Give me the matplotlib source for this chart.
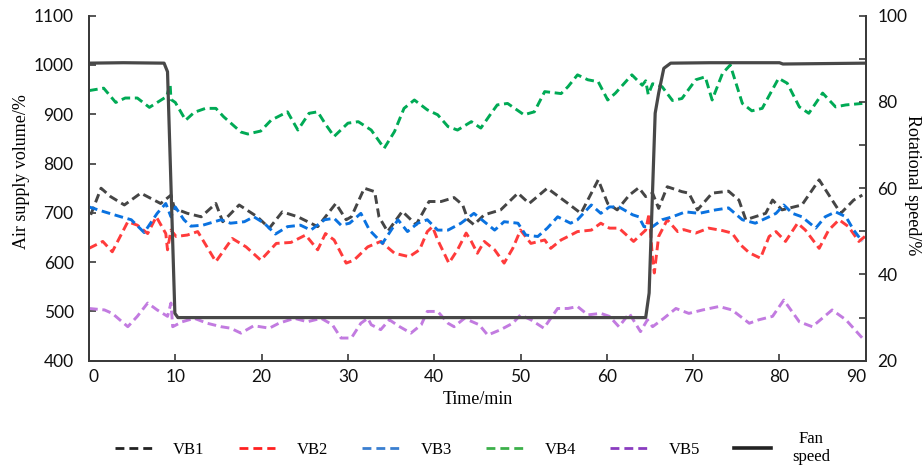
import matplotlib
matplotlib.use("Agg")
import matplotlib.pyplot as plt
from matplotlib.lines import Line2D

# ---- data: time (min) / air supply volume (%) per branch, fan speed (%) ----
vb1_t = [0.2, 1.4, 2.5, 4.1, 6.0, 8.3, 9.5, 9.9, 11.4, 13.0, 14.7, 15.5, 17.4, 19.5, 20.9,
         22.4, 24.2, 26.5, 28.6, 29.8, 30.4, 31.9, 33.1, 33.6, 34.6, 36.3, 37.9, 39.4, 40.8,
         42.3, 43.3, 43.9, 44.6, 45.8, 47.7, 49.7, 51.0, 53.1, 55.5, 57.0, 59.0, 60.1, 61.2,
         62.6, 63.7, 64.5, 65.3, 66.0, 67.0, 68.7, 69.5, 70.5, 72.2, 74.1, 75.3, 76.1, 78.4,
         79.2, 80.3, 81.9, 82.6, 84.6, 86.1, 87.1, 88.6, 89.6]
vb1_v = [696, 750, 733, 716, 740, 719, 736, 709, 699, 692, 719, 682, 716, 692, 669,
         702, 692, 672, 719, 686, 692, 750, 743, 692, 662, 703, 676, 723, 723,
         731, 716, 686, 676, 696, 706, 740, 719, 750, 719, 699, 767, 719, 706,
         736, 751, 733, 740, 709, 753, 743, 740, 706, 740, 744, 726, 686, 699,
         726, 706, 713, 716, 767, 726, 699, 726, 736]

vb2_t = [0.0, 1.6, 2.7, 4.5, 5.6, 6.8, 7.8, 8.9, 9.1, 9.5, 10.1, 11.4, 12.6, 14.7, 16.6,
         18.2, 19.9, 21.7, 23.4, 25.1, 26.5, 27.4, 28.4, 29.8, 30.7, 32.3, 33.8, 35.4, 37.1,
         38.3, 39.2, 39.8, 40.4, 41.7, 42.7, 43.7, 44.3, 45.0, 45.8, 47.0, 48.1, 49.1, 50.0,
         51.2, 52.8, 53.5, 54.7, 55.5, 56.6, 58.2, 59.3, 60.3, 61.4, 63.1, 64.5, 64.9, 65.3,
         65.5, 66.0, 67.0, 68.2, 68.9, 70.3, 71.8, 73.4, 74.5, 75.5, 76.5, 77.8, 78.8, 79.6,
         80.7, 82.1, 83.0, 84.6, 85.7, 86.9, 88.0, 89.2, 89.9]
vb2_v = [628, 642, 621, 682, 675, 658, 692, 658, 625, 665, 652, 655, 662, 601, 648,
         631, 604, 638, 640, 655, 625, 658, 645, 598, 604, 631, 642, 618, 611,
         625, 662, 672, 645, 598, 625, 659, 642, 618, 642, 625, 598, 628, 665,
         638, 645, 628, 645, 652, 662, 665, 679, 669, 669, 642, 665, 699, 605,
         578, 652, 686, 662, 666, 659, 669, 664, 659, 635, 619, 608, 652, 662,
         642, 679, 665, 628, 665, 686, 672, 642, 652]

vb3_t = [0.0, 1.8, 3.7, 4.9, 6.4, 7.9, 8.9, 9.5, 10.0, 11.0, 11.8, 13.2, 15.3, 16.4, 18.0,
         19.1, 20.3, 21.6, 23.0, 24.5, 25.7, 27.3, 28.4, 29.2, 30.2, 31.5, 32.5, 34.0, 35.8,
         36.9, 38.1, 39.2, 40.4, 41.6, 43.1, 44.6, 45.8, 47.0, 48.1, 49.7, 50.6, 52.0, 53.1,
         54.3, 55.8, 56.6, 58.2, 59.3, 60.3, 61.4, 63.0, 63.7, 64.3, 65.3, 66.4, 67.6, 69.1,
         70.7, 72.6, 74.1, 75.7, 77.2, 78.8, 79.6, 80.5, 81.5, 82.6, 84.2, 85.3, 86.5, 87.7,
         88.6, 89.6]
vb3_v = [712, 702, 692, 686, 660, 699, 719, 692, 712, 686, 673, 675, 686, 679, 682,
         692, 679, 657, 672, 675, 665, 686, 689, 675, 679, 699, 665, 638, 686,
         662, 679, 686, 665, 665, 679, 699, 682, 665, 682, 679, 655, 652, 669,
         692, 679, 686, 716, 699, 712, 712, 696, 692, 672, 672, 686, 692, 702,
         699, 706, 710, 686, 679, 692, 699, 716, 699, 692, 669, 692, 702, 692,
         665, 642]

vb4_t = [0.0, 1.7, 3.1, 4.2, 5.6, 7.0, 9.0, 9.4, 9.5, 10.0, 11.2, 12.2, 13.5, 14.7, 15.6,
         17.6, 18.4, 19.9, 21.1, 23.0, 24.2, 25.5, 26.5, 27.4, 28.4, 30.0, 31.2, 32.7, 34.2,
         35.4, 36.5, 37.7, 39.2, 40.4, 41.6, 42.7, 44.3, 45.4, 46.6, 47.3, 48.5, 50.4, 51.6,
         52.8, 54.7, 55.5, 56.6, 57.8, 59.0, 60.1, 61.0, 62.9, 64.1, 64.5, 64.8, 65.3, 66.4,
         67.6, 68.7, 70.3, 71.4, 72.2, 73.4, 74.3, 75.7, 76.8, 78.0, 79.9, 80.9, 82.3, 83.4,
         85.0, 86.5, 87.7, 89.6]
vb4_v = [948, 953, 924, 933, 933, 914, 936, 962, 930, 924, 888, 904, 912, 912, 895,
         864, 860, 866, 888, 905, 868, 902, 905, 880, 855, 882, 885, 868, 831,
         865, 912, 929, 909, 899, 875, 868, 885, 872, 902, 919, 922, 899, 905,
         946, 942, 956, 980, 970, 966, 929, 943, 980, 959, 968, 940, 962, 956,
         928, 932, 970, 976, 929, 983, 1000, 922, 907, 912, 973, 963, 915, 902,
         943, 915, 919, 922]

vb5_t = [0.0, 1.8, 2.7, 4.5, 5.6, 6.8, 7.9, 9.1, 9.5, 9.7, 10.8, 12.2, 13.7, 15.3, 16.4,
         17.6, 19.1, 20.9, 22.0, 23.8, 25.3, 26.9, 28.2, 29.2, 30.4, 31.5, 32.3, 32.7, 33.8,
         34.8, 36.0, 37.3, 38.5, 39.2, 40.4, 41.6, 42.3, 43.5, 45.2, 46.2, 47.7, 49.1, 50.0,
         51.2, 52.7, 53.5, 54.3, 55.5, 56.6, 57.8, 59.3, 60.3, 61.4, 62.6, 63.9, 64.7, 65.3,
         66.6, 68.0, 69.5, 71.1, 73.0, 74.5, 76.5, 77.6, 79.2, 80.5, 82.3, 83.8, 86.1, 87.7,
         89.6]
vb5_v = [506, 503, 496, 469, 490, 517, 503, 490, 517, 469, 479, 486, 476, 469, 466,
         456, 471, 466, 476, 486, 479, 486, 473, 446, 446, 476, 486, 473, 463,
         483, 469, 456, 473, 500, 500, 476, 469, 486, 473, 452, 463, 476, 493,
         483, 466, 486, 506, 506, 510, 493, 496, 490, 469, 496, 459, 483, 469,
         486, 506, 496, 503, 510, 503, 476, 483, 490, 523, 479, 469, 503, 483,
         446]

fan_t = [0.0, 4.0, 8.7, 9.1, 9.95, 10.3, 30.0, 50.0, 64.5, 64.9, 65.6, 66.0, 66.6, 67.4,
         72.0, 80.0, 80.4, 90.0]
fan_v = [89.0, 89.1, 89.0, 87.0, 31.0, 30.0, 30.0, 30.0, 30.0, 35.7, 77.4, 82.0, 87.8, 89.0,
         89.1, 89.1, 88.8, 89.0]

series_names = ["VB1", "VB2", "VB3", "VB4", "VB5"]
line_colors = ["#454545", "#ff3b3b", "#0a72e0", "#00aa55", "#c27be0"]
legend_colors = ["#222222", "#ff2020", "#3a7fd0", "#3cb04a", "#8a3cc0"]
fan_label = "Fan\nspeed"
fan_color = "#484848"

x_ticks = [0, 10, 20, 30, 40, 50, 60, 70, 80, 90]
left_ticks = [400, 500, 600, 700, 800, 900, 1000, 1100]
right_ticks = [20, 40, 60, 80, 100]

# ---- figure ----
fig = plt.figure(figsize=(9.23, 4.69), dpi=100)
ax = fig.add_axes([0.0964, 0.2309, 0.8416, 0.7356])
ax2 = ax.twinx()

tick_font = "Lato"
serif_font = "Liberation Serif"
spine_color = "#3a3a3a"

series = [(vb1_t, vb1_v), (vb2_t, vb2_v), (vb3_t, vb3_v), (vb4_t, vb4_v), (vb5_t, vb5_v)]
for (t, v), c in zip(series, line_colors):
    ax.plot(t, v, color=c, lw=2.1, dashes=(3.0, 1.6), dash_capstyle="butt")

ax2.plot(fan_t, fan_v, color=fan_color, lw=2.3, solid_joinstyle="round")

ax.set_xlim(0, 90)
ax.set_ylim(400, 1100)
ax2.set_ylim(20, 100)

ax.set_xticks(x_ticks)
ax.set_yticks(left_ticks)
ax2.set_yticks(right_ticks)
ax2.set_yticks(range(20, 101, 10), minor=True)

for a in (ax, ax2):
    a.spines["top"].set_visible(False)
    for s in a.spines.values():
        s.set_color(spine_color)
        s.set_linewidth(1.3)

ax.tick_params(axis="both", direction="in", length=5, width=1.2, color=spine_color,
               labelsize=12.5, labelcolor="#111111")
ax.tick_params(axis="y", pad=11)
ax.tick_params(axis="x", pad=6)
ax2.tick_params(axis="y", which="both", direction="in", length=5, width=1.2,
                color=spine_color, labelsize=12.5, labelcolor="#111111", pad=8.5)
for lab in ax.get_xticklabels() + ax.get_yticklabels() + ax2.get_yticklabels():
    lab.set_fontfamily(tick_font)
xlabels = ax.get_xticklabels()
xlabels[0].set_horizontalalignment("left")
xlabels[-1].set_horizontalalignment("right")

ax.set_xlabel("Time/min", fontfamily=serif_font, fontsize=13, labelpad=4)
fig.text(22 / 923, 1 - 172 / 469, "Air supply volume/%", fontfamily=serif_font,
         fontsize=13, rotation=90, ha="center", va="center")
fig.text(913 / 923, 1 - 185 / 469, "Rotational speed/%", fontfamily=serif_font,
         fontsize=13, rotation=-90, ha="center", va="center")

handles = [Line2D([], [], color=c, lw=2.0, dashes=(3.2, 1.8)) for c in legend_colors]
handles.append(Line2D([], [], color="#222222", lw=2.6))
labels = series_names + [fan_label]
leg = fig.legend(handles, labels, loc="center", bbox_to_anchor=(0.512, 0.045), ncol=6,
                 frameon=False, handlelength=2.2, handletextpad=1.3, columnspacing=2.05,
                 prop={"family": serif_font, "size": 12})
for txt in leg.get_texts():
    txt.set_multialignment("center")

fig.savefig("out.png", dpi=100)
